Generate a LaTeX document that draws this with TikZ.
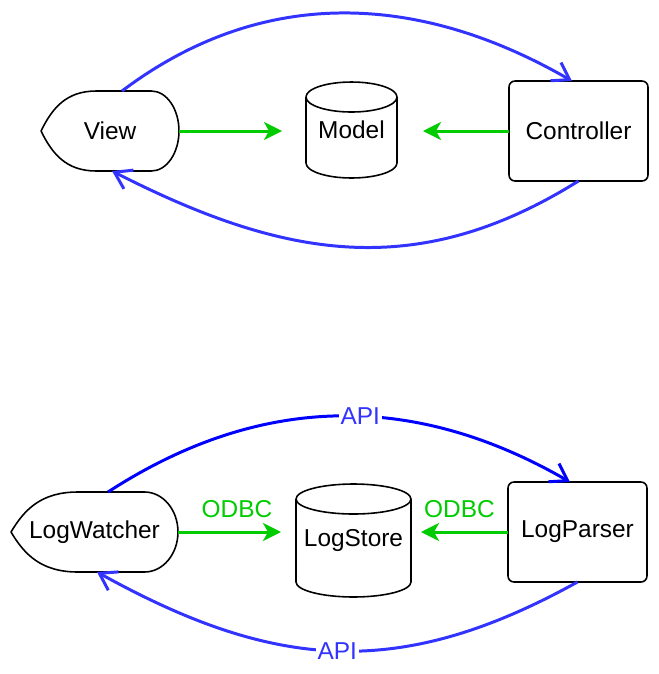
\documentclass[tikz,border=0pt]{standalone}
\usepackage{fontspec}
\setmainfont{Liberation Sans}
\usetikzlibrary{arrows.meta, calc}
\definecolor{dgreen}{HTML}{00CC00}
\definecolor{dblue}{HTML}{3333FF}
\definecolor{pblue}{HTML}{0000FF}
\tikzset{
  lbl/.style={inner sep=0pt, outer sep=0pt, font=\fontsize{13.9}{16}\selectfont},
  shapebox/.style={lbl, minimum width=#1},
  proc/.style={lbl, draw=black, line width=0.9pt, rounded corners=0.12cm,
               minimum width=2.78cm, minimum height=2cm},
  outline/.style={draw=black, line width=0.9pt, line join=round},
  dataflow/.style={draw=dgreen, line width=1.7pt,
                   -{Stealth[length=0.36cm, width=0.36cm, inset=0.1cm]}},
  apiflow/.style={draw=dblue, line width=1.7pt, -{Straight Barb[length=0.32cm, width=0.42cm]}},
  flowtag/.style={font=\fontsize{13.9}{16}\selectfont, text=dgreen, inner sep=2pt},
  apitag/.style={font=\fontsize{13.9}{16}\selectfont, text=dblue, fill=white, inner sep=1pt},
}
% outline of a display node, drawn round the node's box
\newcommand\dispoutline[1]{%
  \draw[outline] let \p1=(#1.north west), \p2=(#1.south east), \n1={\x2-\x1}, \n2={\y1-\y2} in
    (#1.west)
    .. controls ({\x1+0.08*\n1},{\y1-0.22*\n2}) and ({\x1+0.18*\n1},\y1) .. ({\x1+0.4*\n1},\y1)
    -- ($(#1.north west)!0.8!(#1.north east)$)
    .. controls ($(#1.north west)!0.91!(#1.north east)$) and ($(#1.east)!0.552!(#1.north east)$) .. (#1.east)
    .. controls ($(#1.east)!0.552!(#1.south east)$) and ($(#1.south west)!0.91!(#1.south east)$) .. ($(#1.south west)!0.8!(#1.south east)$)
    -- ({\x1+0.4*\n1},\y2)
    .. controls ({\x1+0.18*\n1},\y2) and ({\x1+0.08*\n1},{\y2+0.22*\n2}) .. (#1.west) -- cycle;}
% outline of a cylinder node
\newcommand\cyloutline[1]{%
  \draw[outline] let \p1=(#1.north west), \p2=(#1.south east) in
    (\x1,{\y1-0.3cm}) -- (\x1,{\y2+0.3cm})
    arc[start angle=180, end angle=360, x radius={(\x2-\x1)/2}, y radius=0.3cm]
    -- (\x2,{\y1-0.3cm})
    arc[start angle=0, end angle=180, x radius={(\x2-\x1)/2}, y radius=0.3cm]
    arc[start angle=180, end angle=360, x radius={(\x2-\x1)/2}, y radius=0.3cm];}

\begin{document}
\begin{tikzpicture}[x=0.02cm, y=-0.02cm]
  \useasboundingbox (0,0) rectangle (659,674);

  % MVC
  \node[shapebox=2.76cm, minimum height=1.6cm] (view) at (110,131) {View};
  \node[shapebox=1.82cm, minimum height=1.92cm] (model) at (351.5,130) {Model};
  \node[proc] (ctrl) at (578.5,131) {Controller};
  \dispoutline{view}
  \cyloutline{model}

  \draw[dataflow, shorten >=0.48cm] (view.east) -- (view.east -| model.west);
  \draw[dataflow, shorten >=0.52cm] (ctrl.west) -- (ctrl.west -| model.east);
  \draw[apiflow] ([xshift=0.24cm]view.north) to[out=37, in=150] ([xshift=-0.13cm]ctrl.north);
  \draw[apiflow] (ctrl.south) to[out=212, in=333, looseness=1.05] ([xshift=0.04cm]view.south);

  % log pipeline
  \node[shapebox=3.34cm, minimum height=1.6cm] (watcher) at (94.5,532) {LogWatcher};
  \node[shapebox=2.3cm, minimum height=2.26cm] (store) at (353.5,540.5) {LogStore};
  \node[proc] (parser) at (577.5,532) {LogParser};
  \dispoutline{watcher}
  \cyloutline{store}

  \draw[dataflow, shorten >=0.3cm] (watcher.east) -- node[flowtag, above=0.18cm] {ODBC} (watcher.east -| store.west);
  \draw[dataflow, shorten >=0.2cm] (parser.west) -- node[flowtag, above=0.18cm] {ODBC} (parser.west -| store.east);
  \draw[apiflow, draw=pblue] ([xshift=0.27cm]watcher.north) to[out=33, in=150]
    node[apitag, pos=0.55] {API} ([xshift=-0.15cm]parser.north);
  \draw[apiflow] (parser.south) to[out=209, in=331, looseness=1.08]
    node[apitag, pos=0.5] {API} ([xshift=0.05cm]watcher.south);
\end{tikzpicture}
\end{document}
